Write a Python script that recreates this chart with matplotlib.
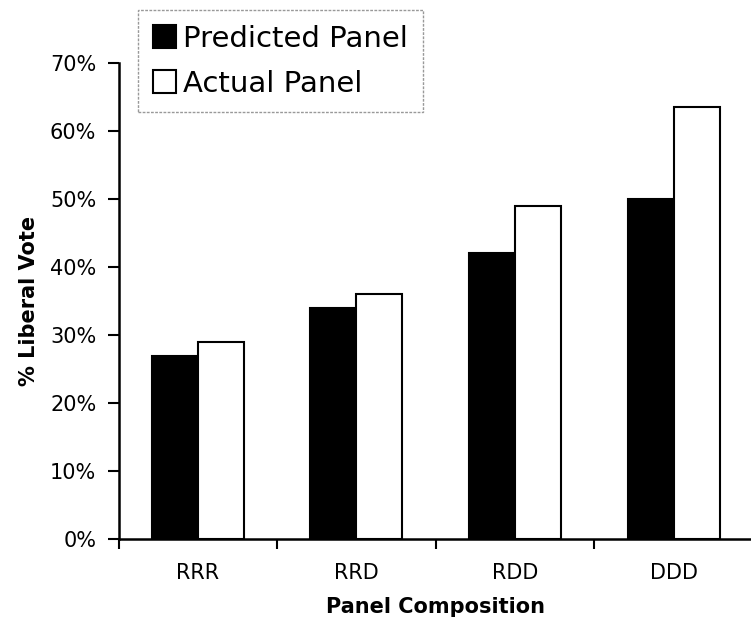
import matplotlib.pyplot as plt
import numpy as np
from matplotlib.ticker import PercentFormatter, FixedLocator

plt.rcParams['font.family'] = 'DejaVu Sans'

categories = ['RRR', 'RRD', 'RDD', 'DDD']
predicted = [27, 34, 42, 50]
actual = [29, 36, 49, 63.5]

fig = plt.figure(figsize=(7.51, 6.2), dpi=100)
ax = fig.add_axes([0.1578, 0.130, 0.845, 0.7687])

x = np.arange(len(categories))
w = 0.29
ax.bar(x - w / 2, predicted, w, color='black', edgecolor='black',
       linewidth=1.5, label='Predicted Panel')
ax.bar(x + w / 2, actual, w, color='white', edgecolor='black',
       linewidth=1.5, label='Actual Panel')

ax.set_xlim(-0.5, len(categories) - 0.5)
ax.set_ylim(0, 70)
ax.set_yticks(np.arange(0, 71, 10))
ax.yaxis.set_major_formatter(PercentFormatter(100, decimals=0))

ax.set_xticks(x)
ax.set_xticklabels(categories)
ax.xaxis.set_minor_locator(FixedLocator(np.arange(-0.5, len(categories), 1)))
ax.tick_params(axis='x', which='major', length=0, pad=17, labelsize=15)
ax.tick_params(axis='x', which='minor', length=7, width=1.5, direction='out')
ax.tick_params(axis='y', length=8, width=1.5, pad=8, labelsize=15)

for s in ['top', 'right']:
    ax.spines[s].set_visible(False)
for s in ['left', 'bottom']:
    ax.spines[s].set_linewidth(1.8)

ax.set_xlabel('Panel Composition', fontsize=15, fontweight='bold', labelpad=10)
ax.set_ylabel('% Liberal Vote', fontsize=15, fontweight='bold', labelpad=8)

leg = fig.legend(loc='upper left', bbox_to_anchor=(138 / 751, 1 - 10 / 620),
                 fontsize=21, handlelength=0.8, handleheight=0.8,
                 handletextpad=0.25, labelspacing=0.58, borderpad=0.5,
                 borderaxespad=0, fancybox=False, framealpha=1)
frame = leg.get_frame()
frame.set_edgecolor('#999999')
frame.set_linewidth(1.0)
frame.set_linestyle((0, (2, 1)))

fig.savefig('out.png', dpi=100)
